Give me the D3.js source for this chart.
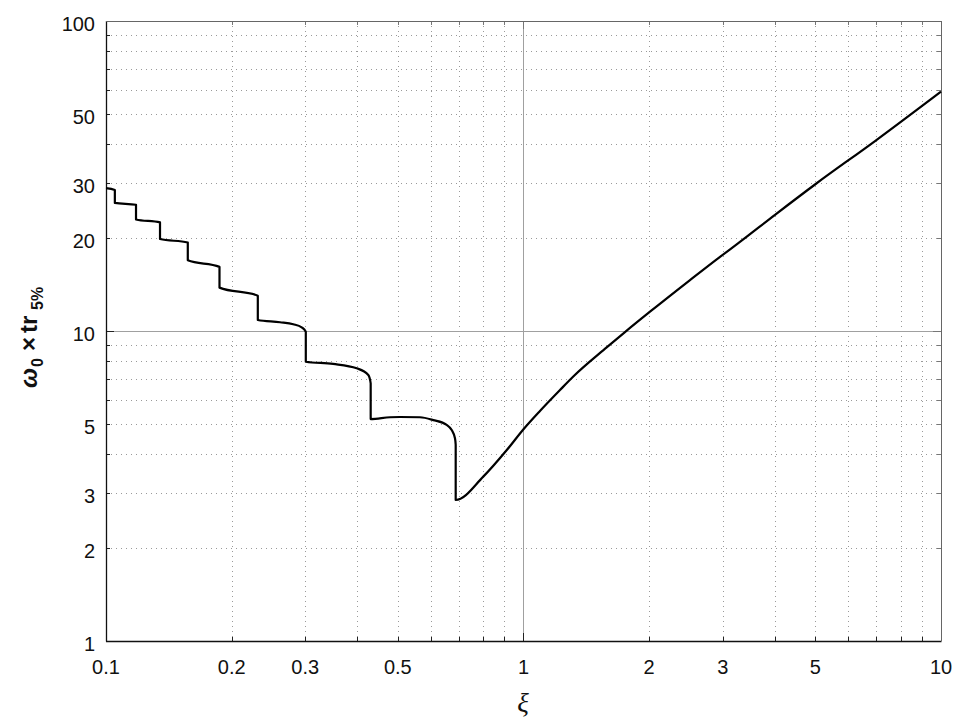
<!DOCTYPE html>
<html><head><meta charset="utf-8">
<script src="https://cdn.jsdelivr.net/npm/d3@7/dist/d3.min.js"></script>
<style>
html,body{margin:0;padding:0;background:#fff;}
svg{display:block;}
</style></head>
<body>
<svg id="c" width="960" height="720"></svg>
<script>
// damping ratio values (vertical jumps use repeated xi)
const xi = [0.1,0.105,0.105,0.118,0.118,0.1347,0.1347,0.157,0.157,0.187,0.187,0.231,0.231,0.2611,0.2809,0.2942,0.301,0.301,0.350,0.3986,0.4249,0.4305,0.4305,0.479,0.506,0.565,0.608,0.6546,0.673,0.6853,0.688,0.688,0.801,0.912,1.0,1.095,1.223,1.316,1.582,1.75,2.009,2.505,2.956,3.27,4.003,5.01,6.95,10];
const w0tr = [28.9,28.5,25.9,25.55,22.9,22.4,19.8,19.3,16.9,16.1,13.8,13.0,10.85,10.67,10.51,10.28,9.95,7.96,7.83,7.58,7.21,6.78,5.20,5.27,5.28,5.27,5.16,4.98,4.79,4.51,4.30,2.85,3.39,4.13,4.82,5.52,6.45,7.13,8.85,9.92,11.54,14.6,17.35,19.2,23.7,29.8,41.0,59.2];
const xTickLabels = [0.1,0.2,0.3,0.5,1,2,3,5,10];
const yTickLabels = [1,2,3,5,10,20,30,50,100];

const L=106,R=941,T=21,B=641;
const x=d3.scaleLog().domain([0.1,10]).range([L,R]);
const y=d3.scaleLog().domain([1,100]).range([B,T]);
const svg=d3.select("#c");

function minors(lo,hi){const a=[];for(let d=lo;d<hi;d*=10)for(let k=2;k<=9;k++)a.push(d*k);return a;}
const xMin=minors(0.1,10), yMin=minors(1,100);

// dotted minor grid
const g=svg.append("g");
g.selectAll(".vx").data(xMin).join("line")
 .attr("x1",d=>Math.round(x(d))+0.5).attr("x2",d=>Math.round(x(d))+0.5).attr("y1",T).attr("y2",B)
 .attr("stroke","#9a9a9a").attr("stroke-width",1).attr("stroke-dasharray","1,4");
g.selectAll(".hy").data(yMin).join("line")
 .attr("y1",d=>Math.round(y(d))+0.5).attr("y2",d=>Math.round(y(d))+0.5).attr("x1",L).attr("x2",R)
 .attr("stroke","#9a9a9a").attr("stroke-width",1).attr("stroke-dasharray","1,4");
// solid major grid
g.append("line").attr("x1",Math.round(x(1))+0.5).attr("x2",Math.round(x(1))+0.5).attr("y1",T).attr("y2",B).attr("stroke","#a0a0a0");
g.append("line").attr("y1",Math.round(y(10))+0.5).attr("y2",Math.round(y(10))+0.5).attr("x1",L).attr("x2",R).attr("stroke","#a0a0a0");

// ticks (inward)
const tk=svg.append("g").attr("stroke","#222").attr("stroke-width",1);
xMin.forEach(v=>{const px=Math.round(x(v))+0.5;
  tk.append("line").attr("x1",px).attr("x2",px).attr("y1",B).attr("y2",B-4);
  tk.append("line").attr("x1",px).attr("x2",px).attr("y1",T).attr("y2",T+4).attr("stroke","#777");});
[0.1,1,10].forEach(v=>{const px=Math.round(x(v))+0.5;
  tk.append("line").attr("x1",px).attr("x2",px).attr("y1",B).attr("y2",B-8);
  tk.append("line").attr("x1",px).attr("x2",px).attr("y1",T).attr("y2",T+8).attr("stroke","#777");});
yMin.forEach(v=>{const py=Math.round(y(v))+0.5;
  tk.append("line").attr("y1",py).attr("y2",py).attr("x1",L).attr("x2",L+4);
  tk.append("line").attr("y1",py).attr("y2",py).attr("x1",R).attr("x2",R-4).attr("stroke","#777");});
[1,10,100].forEach(v=>{const py=Math.round(y(v))+0.5;
  tk.append("line").attr("y1",py).attr("y2",py).attr("x1",L).attr("x2",L+8);
  tk.append("line").attr("y1",py).attr("y2",py).attr("x1",R).attr("x2",R-8).attr("stroke","#777");});

// box
svg.append("line").attr("x1",L+0.5).attr("x2",L+0.5).attr("y1",T).attr("y2",B+0.5).attr("stroke","#111").attr("stroke-width",1.3);
svg.append("line").attr("x1",L).attr("x2",R+0.5).attr("y1",B+0.5).attr("y2",B+0.5).attr("stroke","#111").attr("stroke-width",1.3);
svg.append("line").attr("x1",L).attr("x2",R+0.5).attr("y1",T+0.5).attr("y2",T+0.5).attr("stroke","#666");
svg.append("line").attr("x1",R+0.5).attr("x2",R+0.5).attr("y1",T).attr("y2",B).attr("stroke","#666");

// curve
const pts=xi.map((v,i)=>[v,w0tr[i]]);
svg.append("path").datum(pts)
 .attr("d",d3.line().x(d=>x(d[0])).y(d=>y(d[1])).curve(d3.curveMonotoneX))
 .attr("fill","none").attr("stroke","#000").attr("stroke-width",2.2).attr("stroke-linejoin","round");

// tick labels
const font="'Liberation Sans', Arial, sans-serif";
svg.selectAll(".xl").data(xTickLabels).join("text")
 .attr("x",d=>x(d)).attr("y",674).attr("text-anchor","middle")
 .attr("font-family",font).attr("font-size",20).attr("fill","#111").text(d=>d);
svg.selectAll(".yl").data(yTickLabels).join("text")
 .attr("x",95).attr("y",d=>y(d)+10).attr("text-anchor","end")
 .attr("font-family",font).attr("font-size",20).attr("fill","#111").text(d=>d);

// axis labels
svg.append("text").attr("x",523).attr("y",712).attr("text-anchor","middle")
 .attr("font-family","'Liberation Serif','DejaVu Serif',serif").attr("font-style","italic").attr("font-size",27).attr("fill","#111").text("ξ");

const yl=svg.append("text").attr("transform","translate(37,388) rotate(-90)").attr("text-anchor","start")
 .attr("font-family",font).attr("font-weight","bold").attr("font-size",24).attr("fill","#111");
yl.append("tspan").attr("x",0).attr("y",0).attr("font-style","italic").text("ω");
yl.append("tspan").attr("x",21).attr("y",6).attr("font-size",16).text("0");
yl.append("tspan").attr("x",37).attr("y",0).text("×");
yl.append("tspan").attr("x",55).attr("y",0).text("tr");
yl.append("tspan").attr("x",78).attr("y",6).attr("font-size",16).text("5%");
</script>
</body></html>
